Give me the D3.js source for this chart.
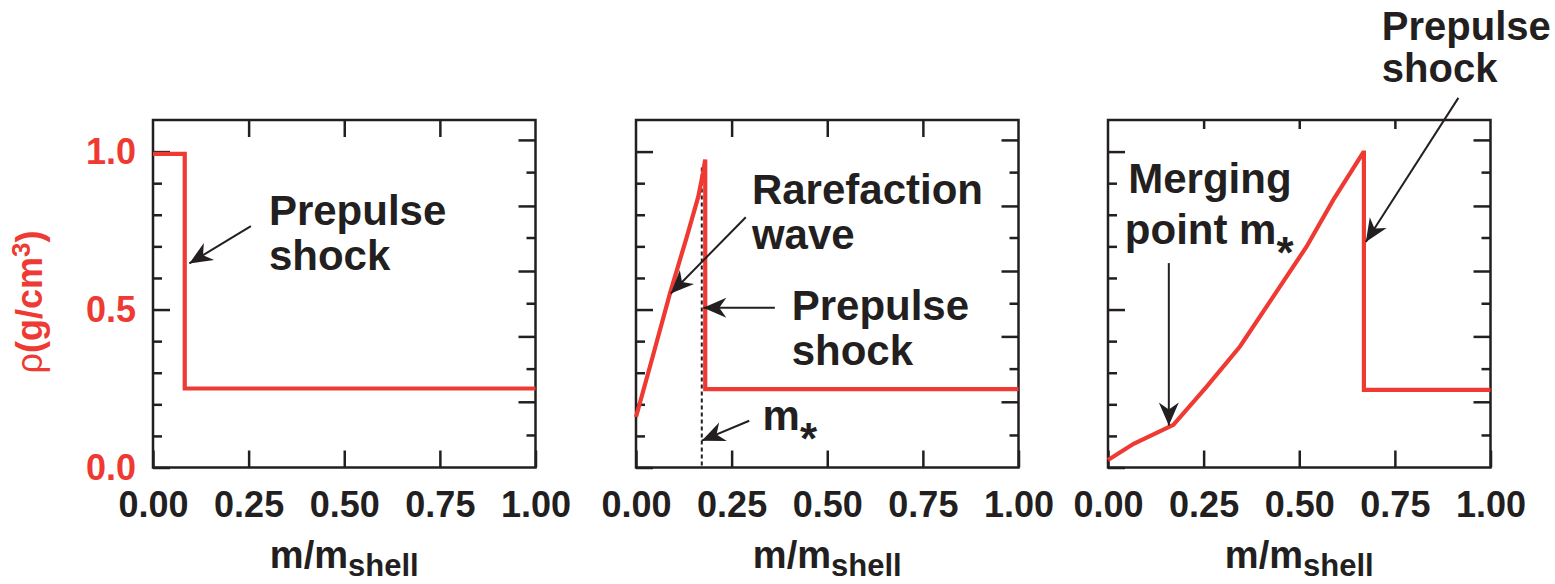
<!DOCTYPE html>
<html>
<head>
<meta charset="utf-8">
<script src="https://cdn.jsdelivr.net/npm/d3@7"></script>
<style>
  body { margin: 0; background: #fff; }
  text { font-family: "Liberation Sans", Arial, Helvetica, sans-serif; }
</style>
</head>
<body>
<div id="viz"></div>
<script>
/* ===== Data ===== */
const xTickValues = [0, 0.25, 0.5, 0.75, 1.0];
const xTickLabels = ['0.00', '0.25', '0.50', '0.75', '1.00'];
const yTickValues = [0, 0.5, 1.0];
const yTickLabels = ['0.0', '0.5', '1.0'];
const yMinorLeft = [0.1, 0.2, 0.3, 0.4, 0.6, 0.7, 0.8, 0.9];
const yRightLong = [1.037, 0.828, 0.622, 0.415, 0.208];
const yRightShort = [0.935, 0.728, 0.52, 0.313, 0.103];

// density profiles [m/m_shell, rho]
const panel1Density = [[0, 0.993], [0.083, 0.993], [0.083, 0.25], [1.0, 0.25]];
const panel2Density = [[0.0, 0.16], [0.045, 0.357], [0.089, 0.552], [0.133, 0.731], [0.163, 0.858],
  [0.175, 0.932], [0.181, 0.975], [0.181, 0.248], [1.0, 0.248]];
const panel3Density = [[0.0, 0.024], [0.067, 0.075], [0.171, 0.135], [0.258, 0.256], [0.345, 0.383],
  [0.432, 0.541], [0.519, 0.699], [0.589, 0.847], [0.667, 0.997], [0.669, 0.997], [0.669, 0.246], [1.0, 0.246]];
const panel2MStar = [[0.172, 0.95], [0.172, 0]];

// annotations: text lines placed in data units, arrows from -> to
const panel1Notes = [{ x: 0.303, y: 0.767, text: 'Prepulse' }, { x: 0.303, y: 0.625, text: 'shock' }];
const panel1Arrows = [{ from: [0.256, 0.764], to: [0.095, 0.646] }];
const panel2Notes = [
  { x: 0.303, y: 0.834, text: 'Rarefaction' }, { x: 0.303, y: 0.691, text: 'wave' },
  { x: 0.407, y: 0.467, text: 'Prepulse' }, { x: 0.407, y: 0.324, text: 'shock' },
  { x: 0.331, y: 0.119, text: 'm', star: true }
];
const panel2Arrows = [
  { from: [0.287, 0.792], to: [0.091, 0.551] },
  { from: [0.363, 0.506], to: [0.176, 0.506] },
  { from: [0.296, 0.148], to: [0.172, 0.085] }
];
const panel3Notes = [
  { x: 0.716, y: 1.354, text: 'Prepulse', size: 40 }, { x: 0.716, y: 1.22, text: 'shock', size: 40 },
  { x: 0.053, y: 0.868, text: 'Merging' }, { x: 0.044, y: 0.706, text: 'point m', star: true }
];
const panel3Arrows = [
  { from: [0.916, 1.17], to: [0.674, 0.714] },
  { from: [0.159, 0.647], to: [0.159, 0.133] }
];

/* ===== Layout ===== */
const width = 1555;
const height = 584;
const red = '#ee3a33';
const ink = '#231f20';
const panelLeft = [153, 636, 1108];
const panelWidth = 382.5;
const plotTop = 120;
const plotBottom = 467.5;

const panels = [
  { density: panel1Density, notes: panel1Notes, arrows: panel1Arrows, topTick: 17, yLabels: true },
  { density: panel2Density, notes: panel2Notes, arrows: panel2Arrows, topTick: 17, mStar: panel2MStar },
  { density: panel3Density, notes: panel3Notes, arrows: panel3Arrows, topTick: 9 }
];

const svg = d3.select('#viz')
  .append('svg')
  .attr('width', width)
  .attr('height', height);

svg.append('defs').append('marker')
  .attr('id', 'head')
  .attr('markerUnits', 'userSpaceOnUse')
  .attr('viewBox', '-24 -11 26 22')
  .attr('refX', 0)
  .attr('refY', 0)
  .attr('markerWidth', 26)
  .attr('markerHeight', 22)
  .attr('orient', 'auto')
  .append('path')
  .attr('d', 'M0,0 L-23,-10 L-16,0 L-23,10 Z')
  .attr('fill', ink);

function styleAxis(g) {
  g.select('.domain').remove();
  g.selectAll('.tick line').attr('stroke', ink).attr('stroke-width', 2.5);
  g.selectAll('text')
    .attr('font-family', '"Liberation Sans", Arial, Helvetica, sans-serif')
    .attr('font-weight', 'bold')
    .attr('font-size', 36);
}

panels.forEach(function (p, i) {
  const xScale = d3.scaleLinear().domain([0, 1]).range([panelLeft[i], panelLeft[i] + panelWidth]);
  const yScale = d3.scaleLinear().domain([0, 1.1]).range([plotBottom, plotTop]);
  const g = svg.append('g').attr('class', 'panel');

  // bottom axis with labels
  g.append('g')
    .attr('transform', `translate(0,${plotBottom})`)
    .call(d3.axisBottom(xScale).tickValues(xTickValues).tickSize(-17).tickSizeOuter(0).tickPadding(24)
      .tickFormat((d, k) => xTickLabels[k]))
    .call(styleAxis)
    .call(a => a.selectAll('text').attr('fill', ink));

  // top ticks
  g.append('g')
    .attr('transform', `translate(0,${plotTop})`)
    .call(d3.axisTop(xScale).tickValues([0.25, 0.5, 0.75]).tickSize(-p.topTick).tickSizeOuter(0).tickFormat(''))
    .call(styleAxis);

  // left ticks
  g.append('g')
    .attr('transform', `translate(${panelLeft[i]},0)`)
    .call(d3.axisLeft(yScale).tickValues(yTickValues).tickSize(-17).tickSizeOuter(0).tickPadding(17)
      .tickFormat((d, k) => p.yLabels ? yTickLabels[k] : ''))
    .call(styleAxis)
    .call(a => a.selectAll('text').attr('fill', red));
  g.append('g')
    .attr('transform', `translate(${panelLeft[i]},0)`)
    .call(d3.axisLeft(yScale).tickValues(yMinorLeft).tickSize(-9).tickSizeOuter(0).tickFormat(''))
    .call(styleAxis);

  // right ticks
  g.append('g')
    .attr('transform', `translate(${panelLeft[i] + panelWidth},0)`)
    .call(d3.axisRight(yScale).tickValues(yRightLong).tickSize(-17).tickSizeOuter(0).tickFormat(''))
    .call(styleAxis);
  g.append('g')
    .attr('transform', `translate(${panelLeft[i] + panelWidth},0)`)
    .call(d3.axisRight(yScale).tickValues(yRightShort).tickSize(-9).tickSizeOuter(0).tickFormat(''))
    .call(styleAxis);

  // frame
  g.append('rect')
    .attr('x', panelLeft[i])
    .attr('y', plotTop)
    .attr('width', panelWidth)
    .attr('height', plotBottom - plotTop)
    .attr('fill', 'none')
    .attr('stroke', ink)
    .attr('stroke-width', 2.5);

  const line = d3.line().x(d => xScale(d[0])).y(d => yScale(d[1]));

  if (p.mStar) {
    g.append('path')
      .attr('d', line(p.mStar))
      .attr('fill', 'none')
      .attr('stroke', ink)
      .attr('stroke-width', 2)
      .attr('stroke-dasharray', '4,3');
  }

  g.append('path')
    .attr('d', line(p.density))
    .attr('fill', 'none')
    .attr('stroke', red)
    .attr('stroke-width', 4.2)
    .attr('stroke-linejoin', 'miter');

  // annotations
  p.notes.forEach(function (n) {
    const t = g.append('text')
      .attr('x', xScale(n.x))
      .attr('y', yScale(n.y))
      .attr('font-size', n.size || 42)
      .attr('font-weight', 'bold')
      .attr('fill', ink)
      .text(n.text);
    if (n.star) {
      t.append('tspan').attr('font-size', 44).attr('dy', 24).text('*');
    }
  });

  p.arrows.forEach(function (a) {
    g.append('line')
      .attr('x1', xScale(a.from[0]))
      .attr('y1', yScale(a.from[1]))
      .attr('x2', xScale(a.to[0]))
      .attr('y2', yScale(a.to[1]))
      .attr('stroke', ink)
      .attr('stroke-width', 2)
      .attr('marker-end', 'url(#head)');
  });

  // x axis title
  const xt = g.append('text')
    .attr('x', xScale(0.5))
    .attr('y', 568)
    .attr('text-anchor', 'middle')
    .attr('font-weight', 'bold')
    .attr('font-size', 38)
    .attr('fill', ink)
    .text('m/m');
  xt.append('tspan').attr('font-size', 31).attr('dy', 8).text('shell');
});

// y axis title
const yt = svg.append('text')
  .attr('transform', 'translate(42,302) rotate(-90)')
  .attr('text-anchor', 'middle')
  .attr('font-size', 36)
  .attr('fill', red);
yt.append('tspan').attr('font-weight', 'normal').text('ρ');
yt.append('tspan').attr('font-weight', 'bold').text('(g/cm');
yt.append('tspan').attr('font-weight', 'bold').attr('font-size', 26).attr('dy', -12).text('3');
yt.append('tspan').attr('font-weight', 'bold').attr('dy', 12).text(')');
</script>
</body>
</html>
